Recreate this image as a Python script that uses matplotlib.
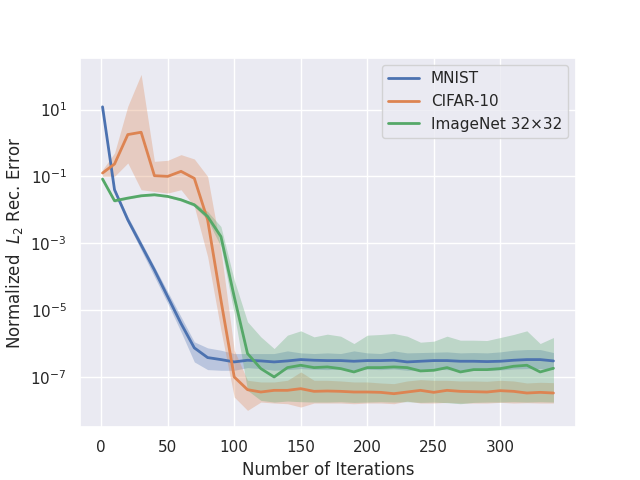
import numpy as np
import matplotlib
matplotlib.use("Agg")
import matplotlib.pyplot as plt
import matplotlib.ticker as mticker
import seaborn as sns

iterations = [1] + list(range(10, 341, 10))
x_ticks = [0, 50, 100, 150, 200, 250, 300]

# log10 values
mnist_mean = [1.08, -1.4, -2.3, -3.05, -3.8, -4.6, -5.4, -6.13, -6.42, -6.48, -6.55, -6.5, -6.52,
              -6.55, -6.52, -6.48, -6.5, -6.51, -6.51, -6.53, -6.51, -6.51, -6.5, -6.55, -6.53,
              -6.51, -6.51, -6.53, -6.53, -6.54, -6.53, -6.5, -6.48, -6.48, -6.52]
mnist_hi = [1.1, -1.35, -2.2, -2.95, -3.7, -4.45, -5.2, -5.95, -6.13, -6.2, -6.3, -6.3, -6.3,
            -6.3, -6.22, -6.28, -6.3, -6.28, -6.3, -6.22, -6.28, -6.3, -6.22, -6.28, -6.27,
            -6.26, -6.25, -6.28, -6.27, -6.28, -6.25, -6.2, -6.18, -6.18, -6.27]
mnist_lo = [1.05, -1.45, -2.4, -3.2, -4.0, -4.8, -5.65, -6.55, -6.78, -6.8, -6.8, -6.72, -6.75,
            -6.8, -6.78, -6.75, -6.77, -6.78, -6.76, -6.8, -6.77, -6.78, -6.76, -6.8, -6.79,
            -6.77, -6.78, -6.8, -6.79, -6.8, -6.79, -6.76, -6.75, -6.75, -6.78]

cifar_mean = [-0.9, -0.63, 0.25, 0.32, -0.98, -1.0, -0.85, -1.06, -2.3, -4.7, -7.0, -7.38, -7.45,
              -7.4, -7.4, -7.35, -7.43, -7.42, -7.43, -7.45, -7.45, -7.46, -7.5, -7.45, -7.4,
              -7.46, -7.4, -7.43, -7.44, -7.45, -7.41, -7.43, -7.48, -7.46, -7.48]
cifar_hi = [-0.8, -0.3, 1.1, 2.05, -0.55, -0.52, -0.35, -0.48, -1.0, -3.2, -6.2, -7.1, -7.15,
            -7.15, -7.1, -6.85, -7.1, -7.1, -7.12, -7.15, -7.15, -7.18, -7.2, -7.12, -7.08,
            -7.1, -7.1, -7.12, -7.12, -7.13, -7.1, -7.12, -7.18, -7.16, -7.17]
cifar_lo = [-1.0, -1.0, -0.6, -1.4, -1.45, -1.5, -1.4, -1.9, -3.4, -5.6, -7.6, -8.0, -7.75,
            -7.78, -7.8, -7.9, -7.78, -7.78, -7.78, -7.8, -7.78, -7.78, -7.8, -7.72, -7.78,
            -7.78, -7.76, -7.78, -7.78, -7.78, -7.76, -7.78, -7.77, -7.78, -7.78]

imnet_mean = [-1.08, -1.73, -1.65, -1.58, -1.55, -1.6, -1.7, -1.85, -2.2, -2.8, -4.6, -6.3, -6.75,
              -7.0, -6.72, -6.65, -6.72, -6.7, -6.75, -6.85, -6.72, -6.72, -6.7, -6.72, -6.82,
              -6.8, -6.72, -6.85, -6.78, -6.78, -6.75, -6.68, -6.65, -6.85, -6.74]
imnet_hi = [-1.05, -1.7, -1.62, -1.55, -1.52, -1.57, -1.66, -1.8, -2.05, -2.5, -4.1, -5.35, -5.8,
            -6.15, -5.75, -5.62, -5.8, -5.72, -5.78, -6.0, -5.75, -5.73, -5.7, -5.78, -5.96,
            -5.93, -5.78, -5.9, -5.9, -5.91, -5.82, -5.73, -5.62, -6.0, -5.82]
imnet_lo = [-1.11, -1.77, -1.68, -1.61, -1.58, -1.63, -1.74, -1.9, -2.3, -3.1, -5.1, -7.4, -7.7,
            -7.75, -7.72, -7.74, -7.75, -7.75, -7.74, -7.76, -7.75, -7.74, -7.75, -7.74, -7.76,
            -7.75, -7.77, -7.8, -7.76, -7.75, -7.75, -7.74, -7.75, -7.74, -7.75]

labels = ["MNIST", "CIFAR-10", "ImageNet 32×32"]

sns.set_theme()
plt.rcParams['font.family'] = ['DejaVu Sans']

fig, ax = plt.subplots(figsize=(6.4, 4.8), dpi=100)
pal = sns.color_palette()
series = [(mnist_mean, mnist_lo, mnist_hi), (cifar_mean, cifar_lo, cifar_hi),
          (imnet_mean, imnet_lo, imnet_hi)]
x = np.array(iterations)
for i, (m, lo, hi) in enumerate(series):
    ax.fill_between(x, 10 ** np.array(lo), 10 ** np.array(hi), color=pal[i], alpha=0.3, linewidth=0)
    ax.plot(x, 10 ** np.array(m), color=pal[i], linewidth=2, label=labels[i])

ax.set_yscale('log')
ax.yaxis.set_major_locator(mticker.FixedLocator([1e1, 1e-1, 1e-3, 1e-5, 1e-7]))
ax.yaxis.set_minor_locator(mticker.NullLocator())
ax.set_xticks(x_ticks)
ax.set_xlabel("Number of Iterations")
ax.set_ylabel("Normalized  $L_2$ Rec. Error")
ax.legend(loc='upper right')
fig.savefig("out.png")
